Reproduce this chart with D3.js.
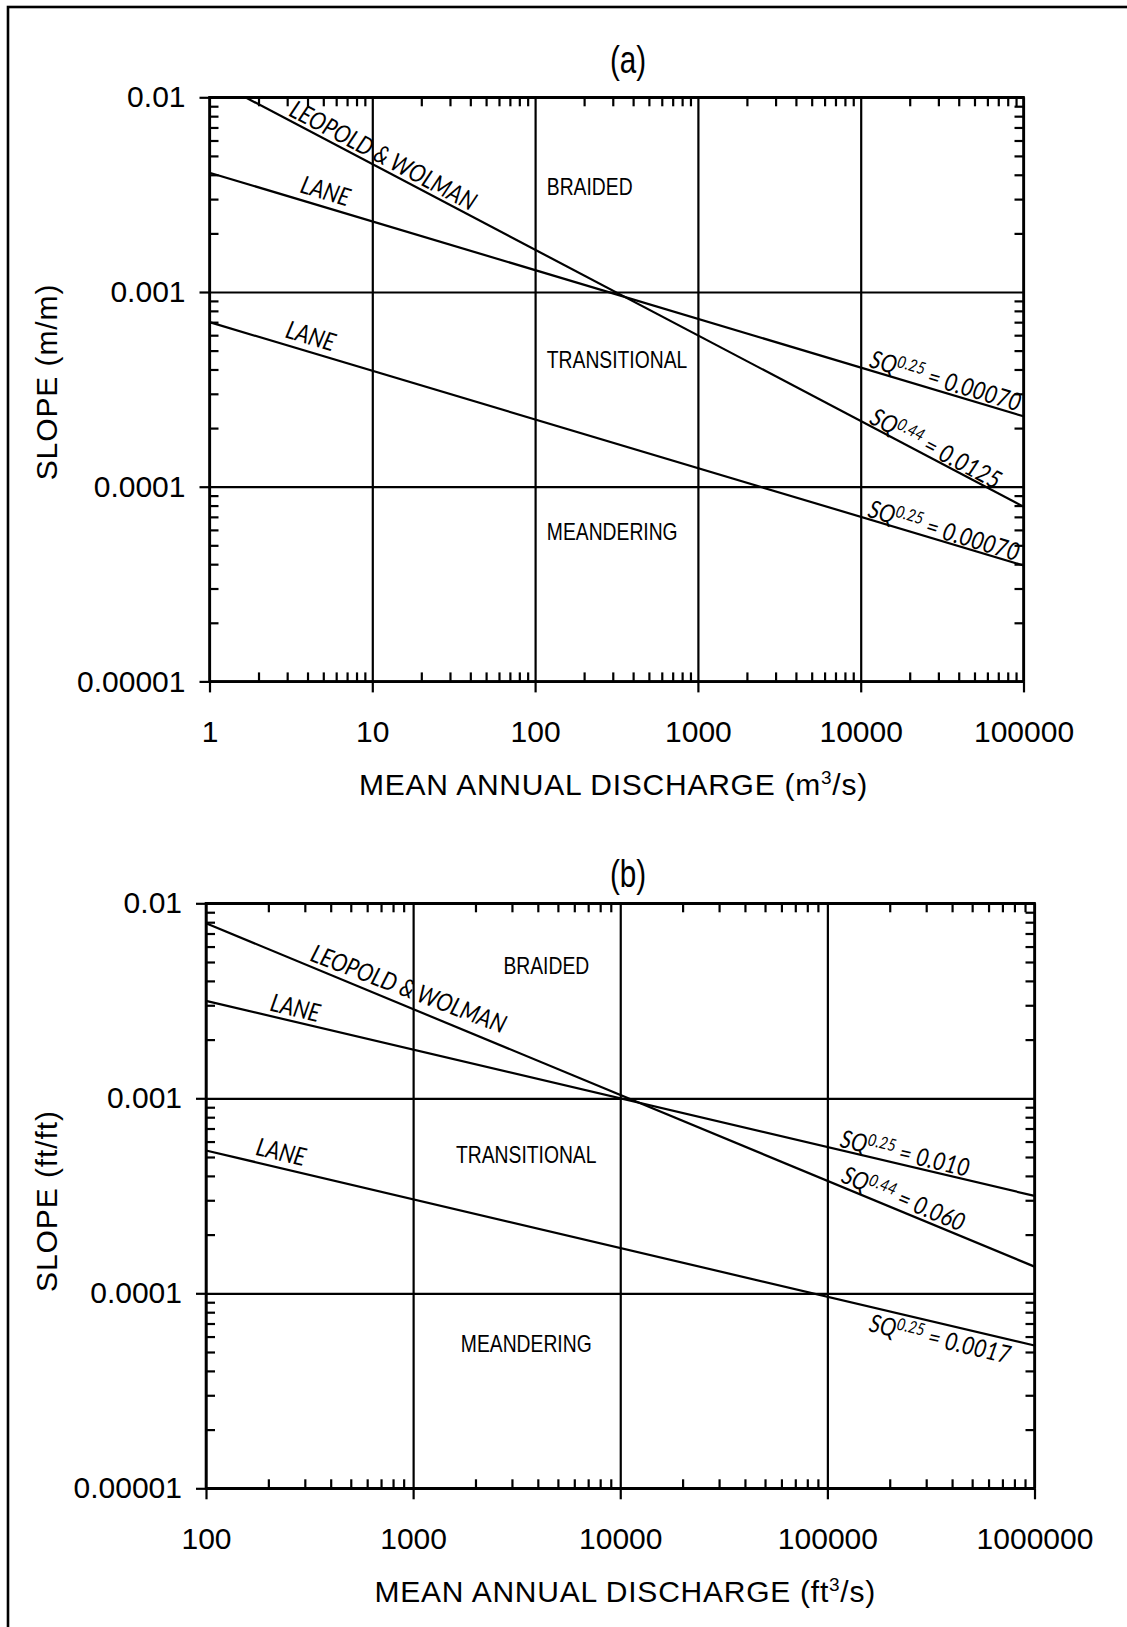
<!DOCTYPE html>
<meta charset="utf-8">
<html>
<head>
<script src="https://cdn.jsdelivr.net/npm/d3@7"></script>
<style>
  body { margin: 0; background: #fff; }
  svg text { fill: #000; }
  .axis text { font-family: "Liberation Sans", Arial, sans-serif; font-size: 30px; fill: #000; }
  .axis line { stroke: #000; stroke-width: 2.2; }
  .axis path { display: none; }
  .title { font-family: "Liberation Sans", Arial, sans-serif; font-size: 30px; }
  .panel-title { font-family: "Liberation Sans", Arial, sans-serif; font-size: 38px; }
  .region { font-family: "Liberation Sans", Arial, sans-serif; font-size: 23px; }
  .linelabel { font-family: Lato, "Open Sans", sans-serif; font-style: italic; font-size: 25px; }
  .curve { fill: none; stroke: #000; stroke-width: 2.2; }
</style>
</head>
<body>
<svg id="chart" width="1127" height="1627"></svg>
<script>
// ---- shared y axis (slope) ----
var yTicks = [0.01, 0.001, 0.0001, 0.00001];
var yTickLabels = ["0.01", "0.001", "0.0001", "0.00001"];
var regionNames = ["BRAIDED", "TRANSITIONAL", "MEANDERING"];

// ---- panel (a), metric units ----
var xTicksA = [1, 10, 100, 1000, 10000, 100000];
var xTickLabelsA = ["1", "10", "100", "1000", "10000", "100000"];
// line end points [Q, S]
var leopoldA = [[1.66, 0.01], [100000, 0.000079]];
var laneUpperA = [[1, 0.0041], [100000, 0.00023]];
var laneLowerA = [[1, 0.0007], [100000, 0.0000394]];

// ---- panel (b), english units ----
var xTicksB = [100, 1000, 10000, 100000, 1000000];
var xTickLabelsB = ["100", "1000", "10000", "100000", "1000000"];
var leopoldB = [[100, 0.0079], [1000000, 0.000137]];
var laneUpperB = [[100, 0.00316], [1000000, 0.000316]];
var laneLowerB = [[100, 0.00054], [1000000, 0.000054]];

var svg = d3.select("#chart");

// outer frame (only top/left edges visible in the original)
svg.append("rect")
  .attr("x", 8).attr("y", 7).attr("width", 1200).attr("height", 1700)
  .attr("fill", "none").attr("stroke", "#000").attr("stroke-width", 2.6);

function isMajor(d) {
  var l = Math.log10(d);
  return Math.abs(l - Math.round(l)) < 1e-6;
}

function drawPanel(cfg) {
  var w = cfg.right - cfg.left, h = cfg.bottom - cfg.top;
  var g = svg.append("g").attr("transform", "translate(" + cfg.left + "," + cfg.top + ")");

  var x = d3.scaleLog().domain([cfg.xTicks[0], cfg.xTicks[cfg.xTicks.length - 1]]).range([0, w]);
  var y = d3.scaleLog().domain([yTicks[yTicks.length - 1], yTicks[0]]).range([h, 0]);

  var xMinor = x.ticks(20).filter(function(d) { return !isMajor(d); });
  var yMinor = y.ticks(20).filter(function(d) { return !isMajor(d); });

  // grid lines at decades
  g.append("g").attr("class", "axis").attr("transform", "translate(0," + h + ")")
    .call(d3.axisBottom(x).tickValues(cfg.xTicks).tickSize(-h).tickFormat(""));
  g.append("g").attr("class", "axis")
    .call(d3.axisLeft(y).tickValues(yTicks).tickSize(-w).tickFormat(""));

  // major ticks + labels
  g.append("g").attr("class", "axis").attr("transform", "translate(0," + h + ")")
    .call(d3.axisBottom(x).tickValues(cfg.xTicks).tickSize(11).tickPadding(28)
      .tickFormat(function(d, i) { return cfg.xLabels[i]; }));
  g.append("g").attr("class", "axis")
    .call(d3.axisLeft(y).tickValues(yTicks).tickSize(10).tickPadding(14)
      .tickFormat(function(d, i) { return yTickLabels[i]; }));

  // minor ticks, pointing inward on all four sides
  g.append("g").attr("class", "axis").attr("transform", "translate(0," + h + ")")
    .call(d3.axisBottom(x).tickValues(xMinor).tickSize(-9).tickFormat(""));
  g.append("g").attr("class", "axis")
    .call(d3.axisTop(x).tickValues(xMinor).tickSize(-9).tickFormat(""));
  g.append("g").attr("class", "axis")
    .call(d3.axisLeft(y).tickValues(yMinor).tickSize(-9).tickFormat(""));
  g.append("g").attr("class", "axis").attr("transform", "translate(" + w + ",0)")
    .call(d3.axisRight(y).tickValues(yMinor).tickSize(-9).tickFormat(""));

  g.append("rect").attr("width", w).attr("height", h)
    .attr("fill", "none").attr("stroke", "#000").attr("stroke-width", 2.6);

  // the three threshold lines
  var line = d3.line().x(function(d) { return x(d[0]); }).y(function(d) { return y(d[1]); });
  g.selectAll(".curve").data(cfg.lines).enter().append("path")
    .attr("class", "curve").attr("d", line);

  // region names (condensed face -> squeeze horizontally)
  regionNames.forEach(function(name, i) {
    g.append("text").attr("class", "region")
      .attr("transform", "translate(" + x(cfg.regionQ[i]) + "," + y(cfg.regionS[i]) + ") scale(0.84,1)")
      .attr("text-anchor", cfg.regionAnchor)
      .text(name);
  });

  // labels set along the lines
  cfg.labels.forEach(function(lb) {
    var p0 = [x(lb.line[0][0]), y(lb.line[0][1])];
    var p1 = [x(lb.line[1][0]), y(lb.line[1][1])];
    var m = (p1[1] - p0[1]) / (p1[0] - p0[0]);
    var px = x(lb.q), py = p0[1] + (px - p0[0]) * m;
    var ang = Math.atan(m) * 180 / Math.PI + (lb.rot || 0);
    var t = g.append("text").attr("class", "linelabel")
      .attr("transform", "translate(" + px + "," + py + ") rotate(" + ang + ") translate(0," + lb.off + ") scale(0.85,1)");
    if (lb.exp) {
      t.append("tspan").text("SQ");
      t.append("tspan").attr("font-size", "17px").attr("dy", -8).text(lb.exp);
      t.append("tspan").attr("dy", 8).text(" = " + lb.val);
    } else {
      t.text(lb.text);
    }
  });

  // panel title
  svg.append("text").attr("class", "panel-title")
    .attr("transform", "translate(" + cfg.titleX + "," + cfg.titleY + ") scale(0.78,1)")
    .attr("text-anchor", "middle").text(cfg.title);

  // axis titles
  var xt = svg.append("text").attr("class", "title").attr("text-anchor", "middle")
    .attr("letter-spacing", "0.75px")
    .attr("x", (cfg.left + cfg.right) / 2 + cfg.xTitleShift).attr("y", cfg.bottom + 114);
  xt.append("tspan").text("MEAN ANNUAL DISCHARGE (" + cfg.unit);
  xt.append("tspan").attr("font-size", "19px").attr("dy", -11).text("3");
  xt.append("tspan").attr("dy", 11).text("/s)");

  svg.append("text").attr("class", "title").attr("text-anchor", "middle")
    .attr("font-size", "31px").attr("letter-spacing", "0.9px")
    .attr("transform", "translate(57," + cfg.yTitleY + ") rotate(-90)")
    .text(cfg.yTitle);
}

drawPanel({
  left: 209.5, right: 1023.5, top: 97.3, bottom: 681.4,
  xTicks: xTicksA, xLabels: xTickLabelsA,
  lines: [leopoldA, laneUpperA, laneLowerA],
  regionQ: [118, 118, 118], regionS: [0.00315, 0.000407, 0.0000532], regionAnchor: "start",
  labels: [
    { line: leopoldA, q: 2.95, off: -4, text: "LEOPOLD & WOLMAN" },
    { line: laneUpperA, q: 3.45, off: -7, text: "LANE" },
    { line: laneLowerA, q: 2.8, off: -7, text: "LANE" },
    { line: laneUpperA, q: 11000, off: -3, exp: "0.25", val: "0.00070" },
    { line: leopoldA, q: 11000, off: -2, exp: "0.44", val: "0.0125" },
    { line: laneLowerA, q: 10800, off: -2, exp: "0.25", val: "0.00070" }
  ],
  title: "(a)", titleX: 628, titleY: 73,
  unit: "m", yTitle: "SLOPE (m/m)", xTitleShift: -3, yTitleY: 382
});

drawPanel({
  left: 206, right: 1034.5, top: 903.3, bottom: 1488.3,
  xTicks: xTicksB, xLabels: xTickLabelsB,
  lines: [leopoldB, laneUpperB, laneLowerB],
  regionQ: [4395, 3516, 3516], regionS: [0.00434, 0.000466, 0.00005], regionAnchor: "middle",
  labels: [
    { line: leopoldB, q: 308, off: -5, rot: -1.8, text: "LEOPOLD & WOLMAN" },
    { line: laneUpperB, q: 199, off: -5, text: "LANE" },
    { line: laneLowerB, q: 169, off: -7, text: "LANE" },
    { line: laneUpperB, q: 113000, off: -3, exp: "0.25", val: "0.010" },
    { line: leopoldB, q: 113000, off: -4, exp: "0.44", val: "0.060" },
    { line: laneLowerB, q: 167000, off: 24, exp: "0.25", val: "0.0017" }
  ],
  title: "(b)", titleX: 628, titleY: 887,
  unit: "ft", yTitle: "SLOPE (ft/ft)", xTitleShift: 5, yTitleY: 1201
});
</script>
</body>
</html>
